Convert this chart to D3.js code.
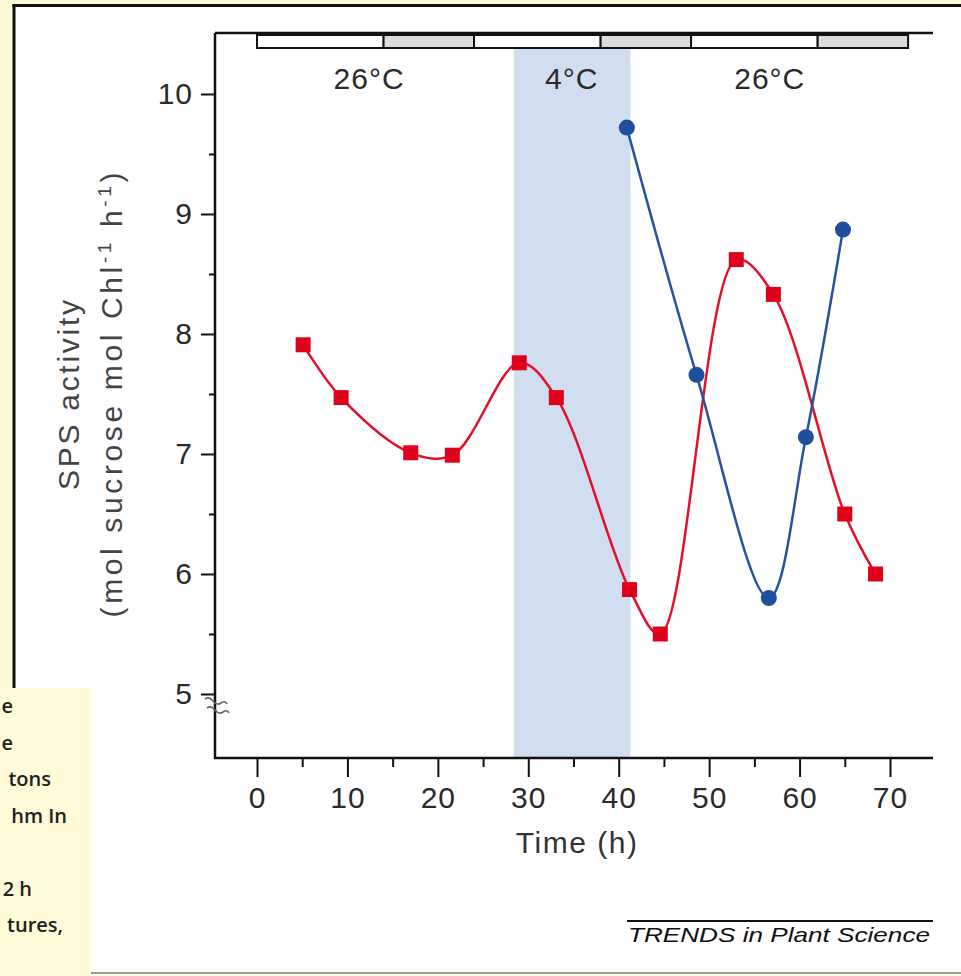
<!DOCTYPE html>
<meta charset="utf-8">
<style>
body { margin: 0; background: #fffad8; }
svg { display: block; }
text { font-family: "Liberation Sans", Arial, sans-serif; }
.tick text { fill: #2a2a2a; }
.note { font-family: "Open Sans", sans-serif; }
</style>
<svg width="961" height="976"></svg>
<script src="https://d3js.org/d3.v7.min.js"></script>
<script>
// SPS activity over time, 26°C / 4°C / 26°C
let red_t = [5.1, 9.3, 17.0, 21.6, 29.0, 33.1, 41.2, 44.6, 53.0, 57.1, 65.0, 68.4];
let red_v = [7.91, 7.47, 7.01, 6.99, 7.76, 7.47, 5.87, 5.50, 8.62, 8.33, 6.50, 6.00];
let blue_t = [40.9, 48.6, 56.6, 60.7, 64.8];
let blue_v = [9.72, 7.66, 5.80, 7.14, 8.87];

let xTicks = [0, 10, 20, 30, 40, 50, 60, 70];
let yTicks = [5, 6, 7, 8, 9, 10];

// light (0) / dark (1) periods on the top bar
let period_start = [0, 14, 24, 38, 48, 62];
let period_end = [14, 24, 38, 48, 62, 72];
let period_dark = [0, 1, 0, 1, 0, 1];

let cold = [28.4, 41.3];
let temp_labels = ["26°C", "4°C", "26°C"];
let temp_pos = [12.4, 34.8, 56.7];

// caption fragment at the left edge of the page
let note_lines = ["e", "e", "tons", "hm In", "", "2 h", "tures,"];
let note_ends = [13, 13, 51, 67, 0, 32, 63];

let svg = d3.select("svg");

// panel
svg.append("rect").attr("x", 14).attr("y", 5).attr("width", 960).attr("height", 968).attr("fill", "#fff");
svg.append("line").attr("x1", 12.5).attr("x2", 961).attr("y1", 5.5).attr("y2", 5.5).attr("stroke", "#111").attr("stroke-width", 3);
svg.append("line").attr("x1", 14).attr("x2", 14).attr("y1", 4).attr("y2", 690).attr("stroke", "#111").attr("stroke-width", 3);
svg.append("line").attr("x1", 91).attr("x2", 961).attr("y1", 973).attr("y2", 973).attr("stroke", "#9a9a9a").attr("stroke-width", 2);

// caption box on the left
svg.append("rect").attr("x", 0).attr("y", 688).attr("width", 91).attr("height", 288).attr("fill", "#fffad8");
svg.append("g").selectAll("text")
    .data(note_lines)
    .enter()
    .append("text")
    .attr("class", "note")
    .attr("x", function(d, i) { return note_ends[i]; })
    .attr("y", function(d, i) { return 713 + i * 36.5; })
    .attr("text-anchor", "end")
    .attr("font-size", 20)
    .attr("font-weight", 600)
    .attr("fill", "#222")
    .text(function(d) { return d; });

let x = d3.scaleLinear().domain([0, 70]).range([257, 890]);
let y = d3.scaleLinear().domain([5, 10]).range([694, 94]);
let pLeft = 215, pRight = 933, pTop = 33, pBottom = 758;

// cold band
svg.append("rect")
    .attr("x", x(cold[0])).attr("width", x(cold[1]) - x(cold[0]))
    .attr("y", 48).attr("height", pBottom - 48)
    .attr("fill", "#d0deef");

// axes
let xAxis = svg.append("g").attr("transform", "translate(0," + pBottom + ")")
    .call(d3.axisBottom(x).tickValues(xTicks).tickSize(19).tickPadding(7).tickFormat(d3.format("d")));
svg.append("g").attr("transform", "translate(0," + pBottom + ")")
    .call(d3.axisBottom(x).tickValues(d3.range(5, 70, 10)).tickSize(9).tickFormat(""));
let yAxis = svg.append("g").attr("transform", "translate(" + pLeft + ",0)")
    .call(d3.axisLeft(y).tickValues(yTicks).tickSize(14).tickPadding(8).tickFormat(d3.format("d")));
svg.append("g").attr("transform", "translate(" + pLeft + ",0)")
    .call(d3.axisLeft(y).tickValues(d3.range(5.5, 10, 1)).tickSize(6).tickFormat(""));
svg.selectAll(".domain").remove();
svg.selectAll(".tick line").attr("stroke", "#111").attr("stroke-width", 2);
svg.selectAll(".tick text").attr("font-size", 30).attr("letter-spacing", "1px");
xAxis.selectAll(".tick text").attr("dy", "0.8em");

svg.append("path")
    .attr("d", "M" + pLeft + "," + pTop + "V" + pBottom + "H" + pRight)
    .attr("fill", "none").attr("stroke", "#111").attr("stroke-width", 2.5);
svg.append("line").attr("x1", pLeft).attr("x2", pRight).attr("y1", pTop).attr("y2", pTop)
    .attr("stroke", "#111").attr("stroke-width", 2.5);

// axis break
svg.append("path")
    .attr("d", "M205,699 q4,-3 8,2 t8,2 t6,1 M207,708 q4,-3 8,2 t8,2 t6,1")
    .attr("fill", "none").attr("stroke", "#666").attr("stroke-width", 1.6);

// light / dark bar
svg.append("g").selectAll("rect")
    .data(period_start)
    .enter()
    .append("rect")
    .attr("x", function(d) { return x(d); })
    .attr("width", function(d, i) { return x(period_end[i]) - x(d); })
    .attr("y", 35).attr("height", 13)
    .attr("fill", function(d, i) { return period_dark[i] ? "#dcdcdc" : "#fff"; })
    .attr("stroke", "#111").attr("stroke-width", 2);

svg.append("g").selectAll("text")
    .data(temp_labels)
    .enter()
    .append("text")
    .attr("x", function(d, i) { return x(temp_pos[i]); })
    .attr("y", 89)
    .attr("text-anchor", "middle")
    .attr("font-size", 30)
    .attr("letter-spacing", "1px")
    .attr("fill", "#2a2a2a")
    .text(function(d) { return d; });

// axis titles
svg.append("text")
    .attr("x", x(35.4)).attr("y", 853)
    .attr("text-anchor", "middle")
    .attr("font-size", 30)
    .attr("letter-spacing", "1.5px")
    .attr("fill", "#333")
    .text("Time (h)");

let yt = svg.append("g").attr("transform", "translate(0,395) rotate(-90)");
yt.append("text")
    .attr("x", 0).attr("y", 79)
    .attr("text-anchor", "middle")
    .attr("font-size", 30)
    .attr("textLength", 190).attr("lengthAdjust", "spacing")
    .attr("fill", "#444")
    .text("SPS  activity");
let yl = yt.append("text")
    .attr("x", 0).attr("y", 122)
    .attr("text-anchor", "middle")
    .attr("font-size", 30)
    .attr("fill", "#444");
yl.append("tspan").text("(mol sucrose  mol Chl");
yl.append("tspan").attr("dy", -11).attr("font-size", 19).text("-1");
yl.append("tspan").attr("dy", 11).text(" h");
yl.append("tspan").attr("dy", -11).attr("font-size", 19).text("-1");
yl.append("tspan").attr("dy", 11).text(")");
yl.attr("textLength", 445).attr("lengthAdjust", "spacing");

// series
let line = d3.line()
    .x(function(d) { return x(d[0]); })
    .y(function(d) { return y(d[1]); })
    .curve(d3.curveCatmullRom.alpha(0.5));

let red = d3.zip(red_t, red_v);
let blue = d3.zip(blue_t, blue_v);

svg.append("path").datum(red).attr("d", line)
    .attr("fill", "none").attr("stroke", "#e2102a").attr("stroke-width", 2.5);
svg.append("path").datum(blue).attr("d", line)
    .attr("fill", "none").attr("stroke", "#2453a0").attr("stroke-width", 2.5);

svg.append("g").selectAll("rect")
    .data(red)
    .enter()
    .append("rect")
    .attr("x", function(d) { return x(d[0]) - 7.5; })
    .attr("y", function(d) { return y(d[1]) - 7.5; })
    .attr("width", 15).attr("height", 15)
    .attr("fill", "#e0001b");

svg.append("g").selectAll("circle")
    .data(blue)
    .enter()
    .append("circle")
    .attr("cx", function(d) { return x(d[0]); })
    .attr("cy", function(d) { return y(d[1]); })
    .attr("r", 8)
    .attr("fill", "#1f4e9c");

// journal footer
svg.append("line").attr("x1", 627).attr("x2", 933).attr("y1", 921).attr("y2", 921)
    .attr("stroke", "#111").attr("stroke-width", 2);
svg.append("text")
    .attr("x", 628).attr("y", 942)
    .attr("font-size", 21)
    .attr("font-style", "italic")
    .attr("textLength", 302).attr("lengthAdjust", "spacingAndGlyphs")
    .attr("fill", "#111")
    .text("TRENDS in Plant Science");
</script>
